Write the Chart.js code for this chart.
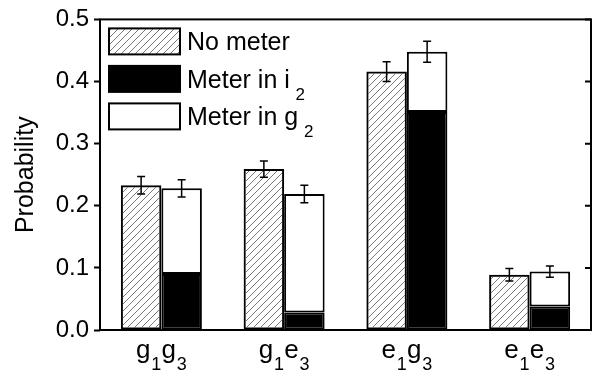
<!DOCTYPE html>
<html>
<head>
<meta charset="utf-8">
<script src="https://cdn.jsdelivr.net/npm/chart.js@4/dist/chart.umd.min.js"></script>
<style>
  body { margin: 0; background: #fff; }
  #wrap { width: 596px; height: 380px; }
</style>
</head>
<body>
<div id="wrap"><canvas id="probChart" width="596" height="380"></canvas></div>
<script>
// categories (digits are drawn as subscripts)
const categories = ["g1g3", "g1e3", "e1g3", "e1e3"];

// No meter
const noMeter = [0.233, 0.259, 0.416, 0.089];
const noMeterErr = [0.014, 0.013, 0.016, 0.010];

// Meter in i2 (black, bottom) and Meter in g2 (white, on top)
const meterI2 = [0.090, 0.028, 0.351, 0.038];
const meterG2 = [0.138, 0.191, 0.097, 0.056];
const meterErr = [0.014, 0.014, 0.017, 0.009];

const yTicks = [0.0, 0.1, 0.2, 0.3, 0.4, 0.5];

const legendText = ["No meter", "Meter in i", "Meter in g"];
const legendSub = ["", "2", "2"];

const FONT = "'Liberation Sans', Arial, sans-serif";

function makeHatch() {
  const c = document.createElement("canvas");
  c.width = 7;
  c.height = 7;
  const g = c.getContext("2d");
  g.strokeStyle = "#555";
  g.lineWidth = 0.8;
  g.beginPath();
  g.moveTo(0, 7); g.lineTo(7, 0);
  g.moveTo(-2, 2); g.lineTo(2, -2);
  g.moveTo(5, 9); g.lineTo(9, 5);
  g.stroke();
  return g.createPattern(c, "repeat");
}

const hatch = makeHatch();
const fills = [hatch, "#000", "#fff"];

// frame, right-side inward ticks
const framePlugin = {
  id: "frame",
  afterDraw(chart) {
    const { ctx, chartArea: a } = chart;
    const y = chart.scales.y;
    ctx.save();
    ctx.strokeStyle = "#000";
    ctx.lineWidth = 2;
    ctx.strokeRect(a.left, a.top, a.right - a.left, a.bottom - a.top);
    ctx.beginPath();
    yTicks.forEach(v => {
      const py = y.getPixelForValue(v);
      ctx.moveTo(a.right - 6, py);
      ctx.lineTo(a.right, py);
    });
    ctx.stroke();
    ctx.restore();
  }
};

function drawSubText(ctx, parts, x, baseY, align, size) {
  // parts: [text, isSub]
  const mainFont = size + "px " + FONT;
  const subFont = Math.round(size * 0.68) + "px " + FONT;
  let total = 0;
  parts.forEach(p => {
    ctx.font = p[1] ? subFont : mainFont;
    total += ctx.measureText(p[0]).width + (p[1] ? 1 : 0);
  });
  let cx = align === "center" ? x - total / 2 : x;
  ctx.textAlign = "left";
  ctx.textBaseline = "alphabetic";
  parts.forEach(p => {
    ctx.font = p[1] ? subFont : mainFont;
    ctx.fillText(p[0], cx + (p[1] ? 1 : 0), p[1] ? baseY + 12 : baseY);
    cx += ctx.measureText(p[0]).width + (p[1] ? 1 : 0);
  });
}

const labelPlugin = {
  id: "subLabels",
  afterDraw(chart) {
    const { ctx } = chart;
    const x = chart.scales.x;
    ctx.save();
    ctx.fillStyle = "#000";
    categories.forEach((lab, i) => {
      const parts = lab.split("").map(ch => [ch, /\d/.test(ch)]);
      drawSubText(ctx, parts, x.getPixelForTick(i), 358, "center", 26);
    });
    ctx.restore();
  }
};

const errorPlugin = {
  id: "errorBars",
  afterDatasetsDraw(chart) {
    const { ctx } = chart;
    const y = chart.scales.y;
    const m0 = chart.getDatasetMeta(0);
    const m2 = chart.getDatasetMeta(2);
    ctx.save();
    ctx.strokeStyle = "#000";
    ctx.lineWidth = 1.5;
    function bar(px, v, e) {
      const top = y.getPixelForValue(v + e);
      const bot = y.getPixelForValue(v - e);
      ctx.beginPath();
      ctx.moveTo(px, top); ctx.lineTo(px, bot);
      ctx.moveTo(px - 4, top); ctx.lineTo(px + 4, top);
      ctx.moveTo(px - 4, bot); ctx.lineTo(px + 4, bot);
      ctx.stroke();
    }
    categories.forEach((_, i) => {
      bar(m0.data[i].x, noMeter[i], noMeterErr[i]);
      bar(m2.data[i].x, meterI2[i] + meterG2[i], meterErr[i]);
    });
    ctx.restore();
  }
};

const legendPlugin = {
  id: "boxLegend",
  afterDraw(chart) {
    const { ctx, chartArea: a } = chart;
    ctx.save();
    legendText.forEach((t, i) => {
      const bx = a.left + 9, by = a.top + 9 + i * 37.5;
      ctx.fillStyle = fills[i];
      ctx.fillRect(bx, by, 71, 26);
      ctx.strokeStyle = "#000";
      ctx.lineWidth = 2;
      ctx.strokeRect(bx, by, 71, 26);
      ctx.fillStyle = "#000";
      const parts = [[t, false]];
      if (legendSub[i]) parts.push([" " + legendSub[i], true]);
      drawSubText(ctx, parts, bx + 78, by + 22, "left", 25);
    });
    ctx.restore();
  }
};

new Chart(document.getElementById("probChart"), {
  type: "bar",
  data: {
    labels: categories,
    datasets: [
      { label: "No meter", data: noMeter, stack: "a", backgroundColor: hatch },
      { label: "Meter in i2", data: meterI2, stack: "b", backgroundColor: "#000" },
      { label: "Meter in g2", data: meterG2, stack: "b", backgroundColor: "#fff" }
    ].map(d => Object.assign(d, {
      borderColor: "#000",
      borderWidth: 2,
      borderSkipped: false,
      categoryPercentage: 0.66,
      barPercentage: 1.0
    }))
  },
  options: {
    responsive: false,
    devicePixelRatio: 1,
    animation: false,
    layout: { padding: { top: 16, right: 5, left: 0, bottom: 0 } },
    plugins: { legend: { display: false }, tooltip: { enabled: false } },
    scales: {
      x: {
        stacked: true,
        grid: { display: false },
        border: { display: false },
        ticks: { display: false },
        afterFit: s => { s.height = 50; }
      },
      y: {
        stacked: true,
        min: 0,
        max: 0.5,
        afterBuildTicks: s => { s.ticks = yTicks.map(v => ({ value: v })); },
        ticks: {
          color: "#000",
          padding: 5,
          font: { family: FONT, size: 24 },
          callback: v => v.toFixed(1)
        },
        grid: {
          drawOnChartArea: false,
          drawTicks: true,
          tickLength: 6,
          tickColor: "#000",
          tickWidth: 2
        },
        border: { display: false },
        title: {
          display: true,
          text: "Probability",
          color: "#000",
          font: { family: FONT, size: 25 },
          padding: { top: 11, bottom: 0 }
        },
        afterFit: s => { s.width = 100; }
      }
    }
  },
  plugins: [errorPlugin, framePlugin, labelPlugin, legendPlugin]
});
</script>
</body>
</html>
